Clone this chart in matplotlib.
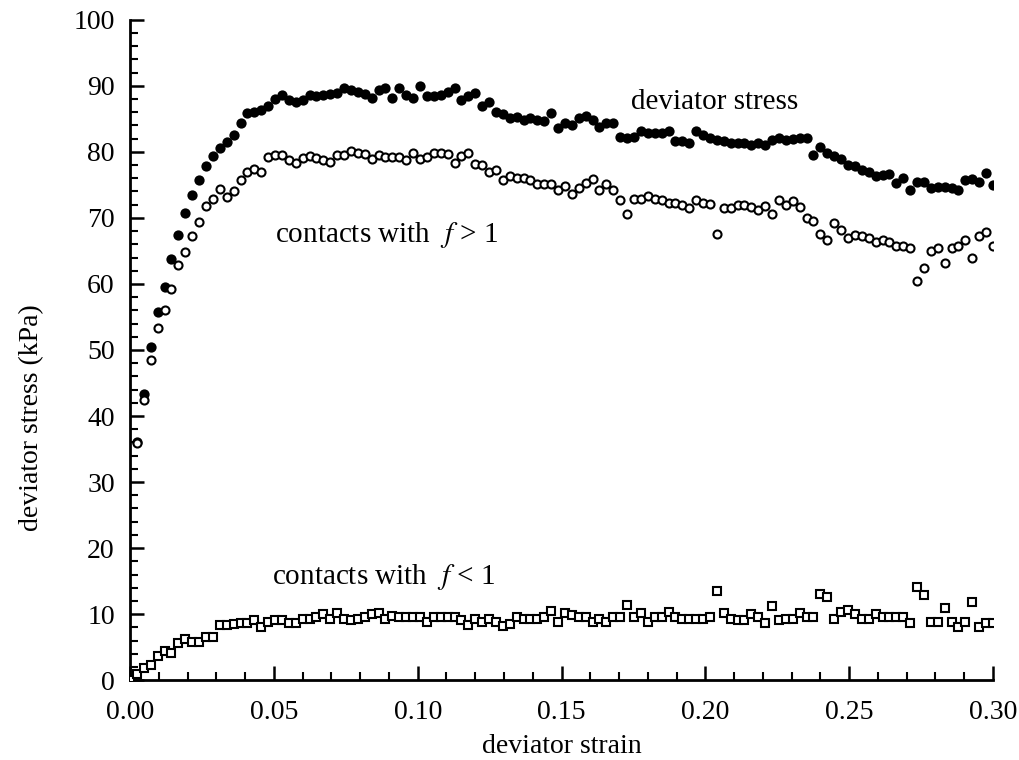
import matplotlib.pyplot as plt
from matplotlib.ticker import MultipleLocator, FormatStrFormatter
import numpy as np

plt.rcParams['font.family'] = ['Liberation Serif', 'DejaVu Serif']
plt.rcParams['mathtext.fontset'] = 'stix'

# strain step between saved states
STEP = 0.0024

# deviator stress (filled circles), states 1..125
deviator = [36.0, 43.4, 50.5, 55.7, 59.6, 63.7, 67.4, 70.7, 73.5, 75.8,
            77.9, 79.4, 80.6, 81.5, 82.6, 84.3, 85.9, 86.1, 86.4, 87.0,
            88.0, 88.6, 87.9, 87.6, 87.9, 88.6, 88.5, 88.6, 88.8, 88.9,
            89.6, 89.3, 89.1, 88.8, 88.1, 89.4, 89.6, 88.1, 89.6, 88.6,
            88.1, 89.9, 88.4, 88.5, 88.6, 89.0, 89.6, 87.9, 88.4, 88.9,
            86.9, 87.6, 86.1, 85.8, 85.1, 85.3, 84.8, 85.1, 84.8, 84.6,
            85.9, 83.6, 84.3, 84.1, 85.1, 85.4, 84.8, 83.8, 84.3, 84.3,
            82.3, 82.1, 82.3, 83.1, 82.8, 82.8, 82.8, 83.1, 81.6, 81.6,
            81.3, 83.1, 82.6, 82.1, 81.8, 81.6, 81.3, 81.3, 81.3, 81.1,
            81.3, 81.1, 81.8, 82.1, 81.8, 81.9, 82.1, 82.1, 79.5, 80.8,
            79.8, 79.3, 78.9, 78.0, 77.8, 77.3, 76.9, 76.4, 76.5, 76.7,
            75.3, 76.0, 74.2, 75.5, 75.5, 74.5, 74.7, 74.7, 74.5, 74.2,
            75.8, 75.9, 75.5, 76.8, 75.0]

# contacts with f > 1 (open circles), states 1..125
strong = [35.9, 42.5, 48.5, 53.3, 56.1, 59.3, 62.9, 64.9, 67.2, 69.4,
          71.8, 72.8, 74.3, 73.1, 74.0, 75.8, 77.0, 77.4, 77.0, 79.2,
          79.5, 79.5, 78.8, 78.3, 79.0, 79.4, 79.0, 78.8, 78.5, 79.5,
          79.5, 80.2, 79.8, 79.7, 78.9, 79.5, 79.2, 79.2, 79.2, 78.8,
          79.8, 78.9, 79.2, 79.8, 79.8, 79.7, 78.3, 79.4, 79.8, 78.2,
          78.0, 77.0, 77.3, 75.8, 76.4, 76.0, 76.0, 75.8, 75.2, 75.2,
          75.2, 74.2, 74.8, 73.6, 74.5, 75.3, 75.9, 74.2, 75.2, 74.2,
          72.7, 70.6, 72.8, 72.8, 73.3, 72.8, 72.7, 72.3, 72.2, 72.0,
          71.5, 72.7, 72.3, 72.1, 67.6, 71.5, 71.5, 72.0, 72.0, 71.7,
          71.2, 71.8, 70.6, 72.7, 72.0, 72.5, 71.7, 70.0, 69.6, 67.5,
          66.6, 69.3, 68.1, 66.9, 67.4, 67.2, 66.9, 66.3, 66.7, 66.3,
          65.7, 65.7, 65.4, 60.5, 62.4, 65.0, 65.4, 63.2, 65.4, 65.7,
          66.6, 63.9, 67.2, 67.8, 65.7]

# contacts with f < 1 (open squares), states 0..125
weak = [0.0, 0.9, 1.9, 2.3, 3.6, 4.4, 4.1, 5.6, 6.2, 5.8,
        5.8, 6.5, 6.5, 8.3, 8.3, 8.5, 8.6, 8.7, 9.1, 8.1,
        8.8, 9.1, 9.1, 8.7, 8.6, 9.2, 9.3, 9.5, 10.0, 9.2,
        10.1, 9.3, 9.1, 9.3, 9.5, 10.0, 10.1, 9.2, 9.7, 9.6,
        9.6, 9.5, 9.5, 8.8, 9.5, 9.5, 9.5, 9.5, 9.1, 8.3,
        9.2, 8.8, 9.3, 8.8, 8.2, 8.5, 9.6, 9.2, 9.2, 9.2,
        9.6, 10.5, 8.8, 10.1, 9.8, 9.6, 9.5, 8.8, 9.3, 8.8,
        9.6, 9.5, 11.4, 9.6, 10.1, 8.8, 9.6, 9.6, 10.3, 9.5,
        9.3, 9.3, 9.2, 9.3, 9.6, 13.5, 10.1, 9.3, 9.1, 9.1,
        10.0, 9.6, 8.7, 11.2, 9.1, 9.2, 9.3, 10.1, 9.6, 9.6,
        13.0, 12.6, 9.2, 10.3, 10.6, 10.0, 9.2, 9.2, 10.0, 9.5,
        9.5, 9.5, 9.5, 8.6, 14.1, 12.9, 8.8, 8.8, 11.0, 8.8,
        8.0, 8.8, 11.9, 8.0, 8.7, 8.7]

weak_strain = np.arange(len(weak)) * STEP
strain = weak_strain[1:]

fig = plt.figure(figsize=(10.2, 7.6), dpi=100)
ax = fig.add_axes([0.1275, 0.105, 0.846, 0.869])

ax.plot(strain, deviator, 'o', color='black', ms=7.4, mew=0, zorder=3)
ax.plot(strain, strong, 'o', mfc='white', mec='black', ms=5.8, mew=1.5, zorder=4)
ax.plot(weak_strain, weak, 's', mfc='white', mec='black', ms=6.2, mew=1.5, zorder=4)

ax.set_xlim(0, 0.30)
ax.set_ylim(0, 100)
ax.xaxis.set_major_locator(MultipleLocator(0.05))
ax.xaxis.set_minor_locator(MultipleLocator(0.01))
ax.xaxis.set_major_formatter(FormatStrFormatter('%.2f'))
ax.yaxis.set_major_locator(MultipleLocator(10))
ax.yaxis.set_minor_locator(MultipleLocator(2))

ax.spines['top'].set_visible(False)
ax.spines['right'].set_visible(False)
ax.spines['left'].set_linewidth(2)
ax.spines['bottom'].set_linewidth(2)
ax.tick_params(which='major', direction='in', length=10, width=1.8, labelsize=20)
ax.tick_params(which='minor', direction='in', length=5.5, width=1.5)
ax.tick_params(axis='x', which='major', pad=14)
ax.tick_params(axis='y', which='major', pad=11)

ax.set_xlabel('deviator strain', fontsize=20)
ax.set_ylabel('deviator stress (kPa)', fontsize=20)
ax.xaxis.set_label_coords(0.5, -0.082)
ax.yaxis.set_label_coords(-0.1, 0.397)

ax.text(0.174, 87.6, 'deviator stress', fontsize=21, va='center')
ax.text(0.0505, 67.4, r'contacts with  $f$ > 1', fontsize=21, va='center')
ax.text(0.0495, 15.6, r'contacts with  $f$ < 1', fontsize=21, va='center')

fig.savefig('out.png', dpi=100)
